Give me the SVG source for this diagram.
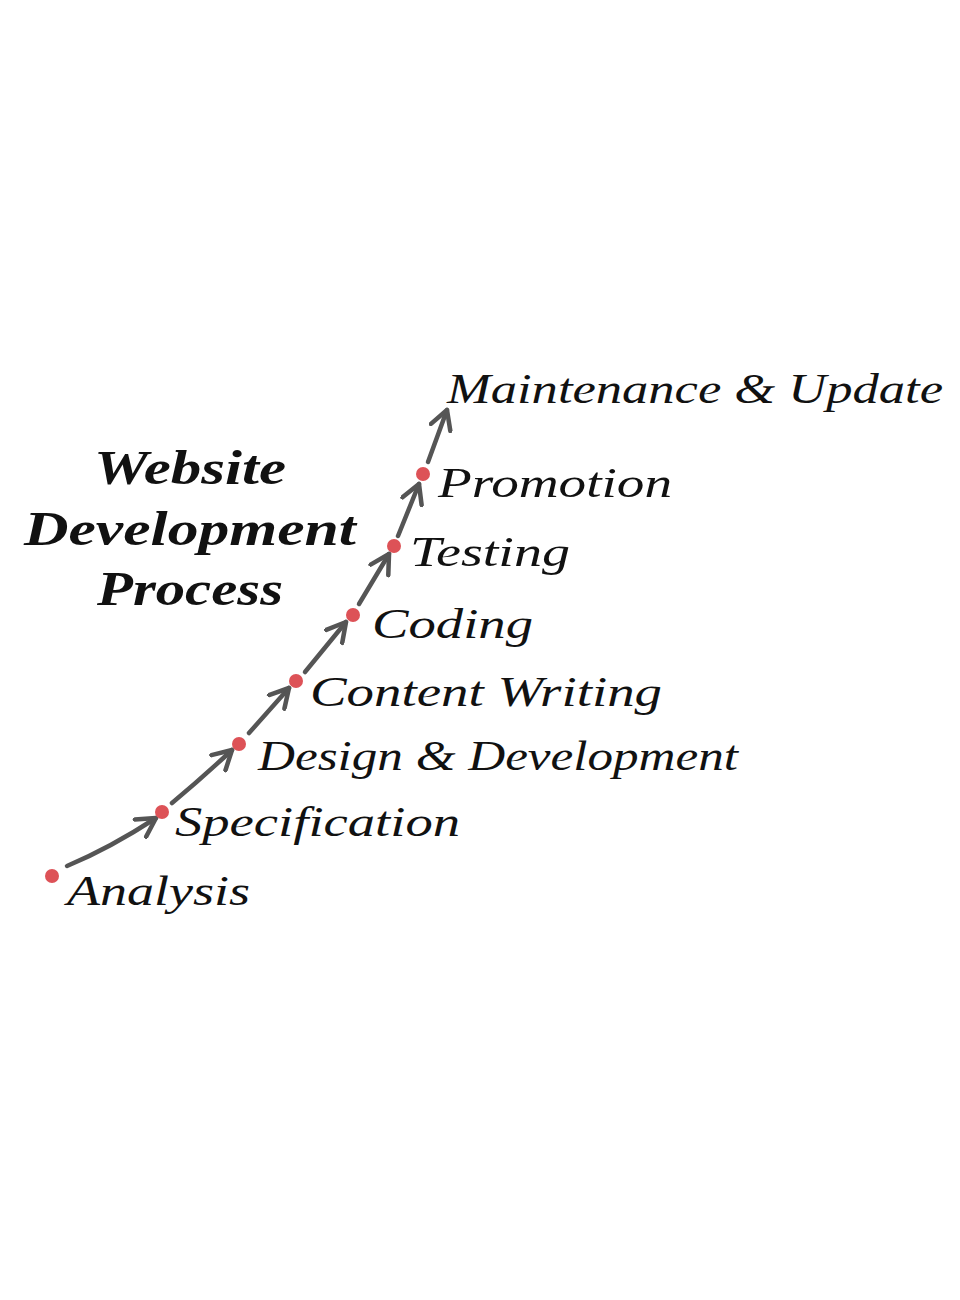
<svg xmlns="http://www.w3.org/2000/svg" width="960" height="1300" viewBox="0 0 960 1300">
<defs>
<style>
.t{font-family:"Liberation Serif","DejaVu Serif",serif;font-style:italic;font-size:42px;fill:#111;}
.h{font-family:"Liberation Serif","DejaVu Serif",serif;font-style:italic;font-weight:bold;font-size:48px;fill:#111;}
.c{fill:none;stroke:#555;stroke-width:4.5;stroke-linecap:round;stroke-linejoin:round;}
.d{fill:#dd5257;}
</style>
<marker id="a" viewBox="0 0 12 12" refX="10" refY="6" markerWidth="5.5" markerHeight="5.5" orient="auto" markerUnits="strokeWidth">
<path d="M1,1 L10,6 L1,11" fill="none" stroke="#555" stroke-width="2.2" stroke-linecap="round" stroke-linejoin="round"/>
</marker>
</defs>
<rect width="960" height="1300" fill="#fff"/>
<g id="title">
<text class="h" x="190" y="484" text-anchor="middle" textLength="192" lengthAdjust="spacingAndGlyphs">Website</text>
<text class="h" x="190" y="545" text-anchor="middle" textLength="332" lengthAdjust="spacingAndGlyphs">Development</text>
<text class="h" x="190" y="605" text-anchor="middle" textLength="186" lengthAdjust="spacingAndGlyphs">Process</text>
</g>
<g id="connectors">
<path class="c" marker-end="url(#a)" d="M67,866 Q110,848 156,818"/>
<path class="c" marker-end="url(#a)" d="M172,803 Q202,778 232,750"/>
<path class="c" marker-end="url(#a)" d="M249,733 L289,688"/>
<path class="c" marker-end="url(#a)" d="M305,672 L346,622"/>
<path class="c" marker-end="url(#a)" d="M359,604 L389,554"/>
<path class="c" marker-end="url(#a)" d="M398,536 L419,484"/>
<path class="c" marker-end="url(#a)" d="M428,462 L447,410"/>
</g>
<g id="analysis"><circle class="d" cx="52" cy="876" r="7"/><text class="t" x="67" y="905" textLength="183" lengthAdjust="spacingAndGlyphs">Analysis</text></g>
<g id="specification"><circle class="d" cx="162" cy="812" r="7"/><text class="t" x="175" y="836" textLength="285" lengthAdjust="spacingAndGlyphs">Specification</text></g>
<g id="design"><circle class="d" cx="239" cy="744" r="7"/><text class="t" x="258" y="770" textLength="480" lengthAdjust="spacingAndGlyphs">Design &amp; Development</text></g>
<g id="content"><circle class="d" cx="296" cy="681" r="7"/><text class="t" x="310" y="706" textLength="352" lengthAdjust="spacingAndGlyphs">Content Writing</text></g>
<g id="coding"><circle class="d" cx="353" cy="615" r="7"/><text class="t" x="372" y="638" textLength="161" lengthAdjust="spacingAndGlyphs">Coding</text></g>
<g id="testing"><circle class="d" cx="394" cy="546" r="7"/><text class="t" x="410" y="566" textLength="160" lengthAdjust="spacingAndGlyphs">Testing</text></g>
<g id="promotion"><circle class="d" cx="423" cy="474" r="7"/><text class="t" x="438" y="497" textLength="234" lengthAdjust="spacingAndGlyphs">Promotion</text></g>
<g id="maintenance"><text class="t" x="447" y="403" textLength="496" lengthAdjust="spacingAndGlyphs">Maintenance &amp; Update</text></g>
</svg>
